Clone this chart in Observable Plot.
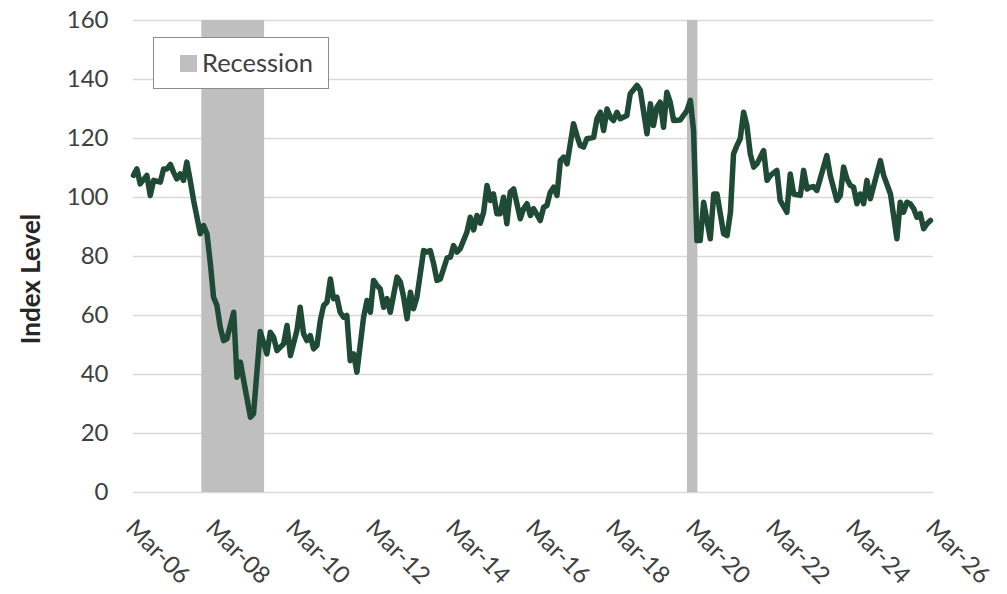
<!DOCTYPE html>
<html>
<head>
<meta charset="utf-8">
<script src="https://cdn.jsdelivr.net/npm/d3@7"></script>
<script src="https://cdn.jsdelivr.net/npm/@observablehq/plot@0.6"></script>
<style>
  html, body { margin: 0; padding: 0; background: #fff; }
  #wrap { position: relative; width: 1007px; height: 594px; font-family: Lato, "Open Sans", sans-serif; }
  #legend { position: absolute; left: 153px; top: 37px; width: 176px; height: 52px; box-sizing: border-box;
            border: 1.5px solid #8c8c8c; background: #fff; display: flex; align-items: center; }
  #legend .sw { width: 17px; height: 17px; background: #bfbfbf; margin-left: 26px; margin-right: 5px; }
  #legend .lb { font-size: 25.5px; color: #404040; line-height: 1; }
  #ylabel { position: absolute; left: 30px; top: 279px; transform: translate(-50%, -50%) rotate(-90deg);
            font-size: 26px; font-weight: bold; color: #262626; white-space: nowrap; line-height: 1; }
</style>
</head>
<body>
<div id="wrap">
  <div id="chart"></div>
  <div id="legend"><div class="sw"></div><div class="lb">Recession</div></div>
  <div id="ylabel">Index Level</div>
</div>
<script>
const months = [
 "2006-03","2006-04","2006-05","2006-07","2006-08","2006-09","2006-11","2006-12","2007-01","2007-02",
 "2007-03","2007-04","2007-05","2007-06","2007-07","2007-08","2007-09","2007-11","2007-12","2008-01",
 "2008-02","2008-03","2008-04","2008-05","2008-06","2008-07","2008-09","2008-10","2008-11","2008-12",
 "2009-02","2009-03","2009-05","2009-07","2009-08","2009-09","2009-10","2009-12","2010-01","2010-02",
 "2010-04","2010-05","2010-06","2010-07","2010-08","2010-09","2010-10","2010-11","2010-12","2011-01",
 "2011-02","2011-03","2011-04","2011-05","2011-06","2011-07","2011-08","2011-09","2011-10","2011-12",
 "2012-01","2012-02","2012-03","2012-04","2012-05","2012-06","2012-07","2012-08","2012-10","2012-11",
 "2012-12","2013-01","2013-02","2013-03","2013-04","2013-06","2013-07","2013-08","2013-09","2013-10",
 "2013-11","2014-01","2014-02","2014-03","2014-04","2014-05","2014-07","2014-08","2014-09","2014-10",
 "2014-11","2014-12","2015-01","2015-02","2015-03","2015-04","2015-05","2015-06","2015-07","2015-08",
 "2015-09","2015-11","2015-12","2016-01","2016-02","2016-03","2016-05","2016-06","2016-07","2016-08",
 "2016-09","2016-10","2016-11","2016-12","2017-01","2017-03","2017-04","2017-05","2017-06","2017-07",
 "2017-09","2017-10","2017-11","2017-12","2018-01","2018-02","2018-03","2018-04","2018-05","2018-07",
 "2018-08","2018-10","2018-11","2019-01","2019-02","2019-03","2019-04","2019-05","2019-06","2019-07",
 "2019-08","2019-09","2019-11","2020-01","2020-02","2020-03","2020-04","2020-05","2020-06","2020-08",
 "2020-09","2020-10","2020-12","2021-01","2021-02","2021-03","2021-04","2021-05","2021-06","2021-07",
 "2021-08","2021-09","2021-10","2021-12","2022-01","2022-02","2022-04","2022-05","2022-07","2022-08",
 "2022-09","2022-11","2022-12","2023-01","2023-02","2023-03","2023-04","2023-07","2023-08","2023-10",
 "2023-11","2023-12","2024-01","2024-02","2024-03","2024-04","2024-05","2024-06","2024-07","2024-08",
 "2024-11","2024-12","2025-02","2025-04","2025-05","2025-06","2025-07","2025-08","2025-09","2025-10",
 "2025-11","2025-12","2026-01","2026-02"
];
const indexValues = [
 107.5,109.7,104.6,107.5,100.7,105.8,105.2,109.7,109.7,111.2,
 108.6,106.3,108,105.8,112,105.8,99,87.7,90.5,87.7,
 77.5,66.2,63.4,56,51.5,52.1,61.1,39.1,44.2,38,
 25.5,26.7,54.6,47,54.3,52.6,48.1,50.4,56.6,46.4,
 54.9,62.8,53.8,51.5,53.2,48.7,49.8,58.3,63.4,64.5,
 72.4,65.7,66.2,61.1,59.4,60,44.7,47,40.8,59.4,
 65.1,61.1,71.9,70.2,69,62.8,65.7,61.1,73,71.3,
 66.2,58.9,67.9,62.3,66.2,82,81.5,82,77.5,71.9,
 72.4,79.5,79.8,83.7,81.5,82.6,88.2,93.3,89,93.9,
 91.3,95,104.1,99,101.2,94.5,94.5,100.1,91.1,101.8,
 102.9,92.8,96.2,97.9,93.9,96.2,92.2,96.7,97.3,101.8,
 103.5,100.7,112.5,113.7,111.4,125,121,117.6,117.1,119.9,
 120.4,126.7,128.9,122.7,130,127.2,126.1,128.9,126.7,127.8,
 135.2,138,136.3,121.6,131.8,124.4,130.6,132.3,123.8,135.7,
 132.3,126.1,126.3,129.5,132.9,122.7,85.4,85.4,98.4,86,
 101.2,101.2,87.7,87.1,95,114.8,117.6,119.9,128.9,124.4,
 114.8,110.3,111.4,115.9,105.8,107.5,109.2,99,95,108,
 101.2,100.7,109.2,102.9,103.5,103.7,102.4,114.2,107.5,99,
 100.7,110.3,106.3,104.1,103.5,97.9,101.2,97.9,105.8,99.6,
 112.5,107.5,101.2,86,98.4,95,98.4,97.9,96.2,93.3,
 94.5,89.4,91.1,92.2
];
const recessionStart = ["2007-11-15", "2020-01-05"];
const recessionEnd   = ["2009-06-10", "2020-04-10"];
const yTicks = [0, 20, 40, 60, 80, 100, 120, 140, 160];
const xTickDates = ["2006-03-01","2008-03-01","2010-03-01","2012-03-01","2014-03-01","2016-03-01",
                    "2018-03-01","2020-03-01","2022-03-01","2024-03-01","2026-03-01"];
const xTickLabels = ["Mar-06","Mar-08","Mar-10","Mar-12","Mar-14","Mar-16","Mar-18","Mar-20","Mar-22","Mar-24","Mar-26"];

const data = months.map((m, i) => ({date: new Date(m + "-01T00:00:00Z"), value: indexValues[i]}));
const recessions = recessionStart.map((s, i) => ({start: new Date(s + "T00:00:00Z"), end: new Date(recessionEnd[i] + "T00:00:00Z")}));
const xTicks = xTickDates.map((d, i) => ({date: new Date(d + "T00:00:00Z"), label: xTickLabels[i]}));

const chart = Plot.plot({
  width: 1007,
  height: 594,
  marginLeft: 133,
  marginRight: 74,
  marginTop: 20,
  marginBottom: 102,
  style: {fontFamily: "Lato, 'Open Sans', sans-serif", background: "#fff"},
  x: {type: "utc", domain: [new Date("2006-03-01T00:00:00Z"), new Date("2026-03-01T00:00:00Z")]},
  y: {domain: [0, 160]},
  marks: [
    Plot.ruleY(yTicks, {stroke: "#d9d9d9", strokeWidth: 1.3}),
    Plot.rectY(recessions, {x1: "start", x2: "end", y1: 0, y2: 160, fill: "#bfbfbf"}),
    Plot.line(data, {x: "date", y: "value", stroke: "#1f4a36", strokeWidth: 5.5, strokeLinejoin: "round", strokeLinecap: "round"}),
    Plot.axisY({ticks: yTicks, tickSize: 0, tickPadding: 25, fontSize: 24, fill: "#404040", label: null}),
    Plot.axisX({ticks: [], label: null}),
    Plot.text(xTicks, {x: "date", text: "label", frameAnchor: "bottom", dy: 25, dx: 3, rotate: 45,
                       textAnchor: "start", lineAnchor: "top", fontSize: 24, fill: "#404040"})
  ]
});
document.getElementById("chart").appendChild(chart);
</script>
</body>
</html>
